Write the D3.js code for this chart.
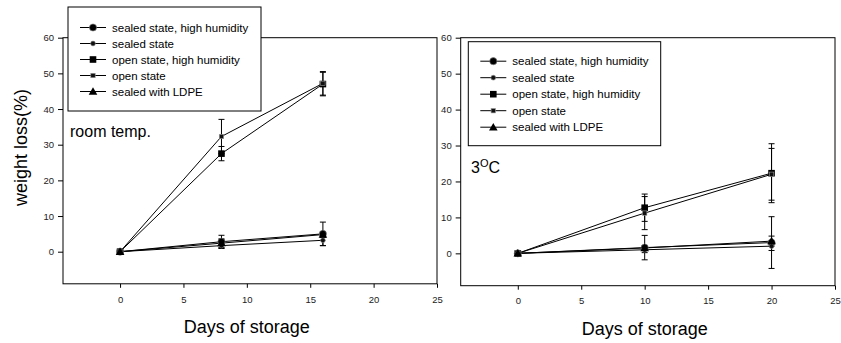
<!DOCTYPE html>
<html>
<head>
<meta charset="utf-8">
<script src="https://cdn.jsdelivr.net/npm/d3@7"></script>
<style>
  html, body { margin: 0; padding: 0; background: #fff; }
  svg { display: block; font-family: "Liberation Sans", Arial, sans-serif; }
</style>
</head>
<body>
<svg id="chart" width="841" height="343"></svg>
<script>
// Weight loss during storage, two storage temperatures
const seriesNames = [
  "sealed state, high humidity",
  "sealed state",
  "open state, high humidity",
  "open state",
  "sealed with LDPE"
];
const seriesSymbols = ["bigCircle", "smallCircle", "bigSquare", "smallSquare", "triangle"];

const xTicks = [0, 5, 10, 15, 20, 25];
const yTicks = [0, 10, 20, 30, 40, 50, 60];

// room temperature storage
const roomDays = [0, 8, 16];
const roomSealedHH = [0, 2.8, 5.0];
const roomSealedHHErr = [0.3, 1.8, 3.3];
const roomSealed = [0, 1.7, 3.2];
const roomSealedErr = [0.2, 0.8, 1.5];
const roomOpenHH = [0, 27.5, 47.0];
const roomOpenHHErr = [0.3, 2.0, 3.3];
const roomOpen = [0, 32.3, 47.2];
const roomOpenErr = [0.3, 4.8, 3.3];
const roomLDPE = [0, 2.4, 4.8];
const roomLDPEErr = [0.2, 1.2, 0.8];

// 3 °C storage
const coldDays = [0, 10, 20];
const coldSealedHH = [0, 1.6, 3.0];
const coldSealedHHErr = [0.2, 3.4, 7.2];
const coldSealed = [0, 1.0, 2.0];
const coldSealedErr = [0.2, 0.8, 1.2];
const coldOpenHH = [0, 12.7, 22.3];
const coldOpenHHErr = [0.3, 3.8, 8.2];
const coldOpen = [0, 11.2, 22.0];
const coldOpenErr = [0.3, 4.6, 7.2];
const coldLDPE = [0, 1.5, 3.4];
const coldLDPEErr = [0.2, 0.6, 1.4];

const svg = d3.select("#chart");

function buildSeries(days, vals, errs) {
  return vals.map((v, i) => ({
    name: seriesNames[i],
    symbol: seriesSymbols[i],
    points: days.map((d, j) => ({ x: d, y: v[j], e: errs[i][j] }))
  }));
}

function drawSymbol(g, type, cx, cy) {
  if (type === "bigCircle") {
    g.append("circle").attr("cx", cx).attr("cy", cy).attr("r", 3.6)
      .attr("fill", "#000").attr("stroke", "#888").attr("stroke-width", 0.6);
  } else if (type === "smallCircle") {
    g.append("circle").attr("cx", cx).attr("cy", cy).attr("r", 2.4)
      .attr("fill", "#111").attr("stroke", "#888").attr("stroke-width", 0.6);
  } else if (type === "bigSquare") {
    g.append("rect").attr("x", cx - 3.3).attr("y", cy - 3.3).attr("width", 6.6).attr("height", 6.6).attr("fill", "#000");
  } else if (type === "smallSquare") {
    g.append("rect").attr("x", cx - 2.2).attr("y", cy - 2.2).attr("width", 4.4).attr("height", 4.4)
      .attr("fill", "#111").attr("stroke", "#999").attr("stroke-width", 0.6);
  } else if (type === "triangle") {
    const s = 4.3;
    g.append("path")
      .attr("d", `M${cx},${cy - s}L${cx + s},${cy + s * 0.75}L${cx - s},${cy + s * 0.75}Z`)
      .attr("fill", "#000");
  }
}

// squares first, then circles, triangle on top
const markerOrder = [2, 3, 0, 1, 4];

function panel(opt) {
  const x = d3.scaleLinear().domain([-4.5, 25]).range([opt.left, opt.right]);
  const y = d3.scaleLinear().domain([-9, 60]).range([opt.bottom, opt.top]);
  const g = svg.append("g");

  // frame
  g.append("rect")
    .attr("x", opt.left).attr("y", opt.top)
    .attr("width", opt.right - opt.left).attr("height", opt.bottom - opt.top)
    .attr("fill", "none").attr("stroke", "#000").attr("stroke-width", 1);

  const yAxis = g.append("g")
    .attr("transform", `translate(${opt.left},0)`)
    .call(d3.axisLeft(y).tickValues(yTicks).tickSize(5).tickPadding(4).tickFormat(d3.format("d")));
  const xAxis = g.append("g")
    .attr("transform", `translate(0,${opt.bottom})`)
    .call(d3.axisBottom(x).tickValues(xTicks).tickSize(4).tickPadding(8).tickFormat(d3.format("d")));
  [yAxis, xAxis].forEach(a => {
    a.select(".domain").remove();
    a.selectAll("text").attr("font-size", 9.5).attr("fill", "#222")
      .attr("font-family", "Liberation Sans, Arial, sans-serif");
    a.selectAll("line").attr("stroke", "#000");
  });

  // error bars
  const eg = g.append("g");
  opt.series.forEach(s => {
    s.points.forEach(p => {
      if (p.x === 0) return;
      const px = x(p.x);
      const y1 = y(p.y + p.e), y2 = y(p.y - p.e);
      eg.append("line").attr("x1", px).attr("x2", px).attr("y1", y1).attr("y2", y2)
        .attr("stroke", "#000").attr("stroke-width", 1);
      [y1, y2].forEach(yy => eg.append("line")
        .attr("x1", px - 3).attr("x2", px + 3).attr("y1", yy).attr("y2", yy)
        .attr("stroke", "#000").attr("stroke-width", 1));
    });
  });

  // lines
  const line = d3.line().x(p => x(p.x)).y(p => y(p.y));
  opt.series.forEach(s => {
    g.append("path").attr("d", line(s.points))
      .attr("fill", "none").attr("stroke", "#000").attr("stroke-width", 1);
  });

  // markers
  markerOrder.forEach(i => {
    const s = opt.series[i];
    s.points.forEach(p => drawSymbol(g, s.symbol, x(p.x), y(p.y)));
  });

  // legend
  const lg = g.append("g");
  lg.append("rect")
    .attr("x", opt.legend.x).attr("y", opt.legend.y)
    .attr("width", opt.legend.w).attr("height", opt.legend.h)
    .attr("fill", "#fff").attr("stroke", "#000").attr("stroke-width", 1);
  opt.series.forEach((s, i) => {
    const ly = opt.legend.y + opt.legend.first + i * opt.legend.step;
    const lx = opt.legend.x + 12;
    lg.append("line").attr("x1", lx).attr("x2", lx + 26).attr("y1", ly).attr("y2", ly)
      .attr("stroke", "#000").attr("stroke-width", 1);
    drawSymbol(lg, s.symbol, lx + 13, ly);
    lg.append("text").attr("x", lx + 32).attr("y", ly + 4)
      .attr("font-size", 11.5).attr("fill", "#000").text(s.name);
  });

  // x axis title
  g.append("text")
    .attr("x", x(10)).attr("y", opt.bottom + 49)
    .attr("text-anchor", "middle").attr("font-size", 18).attr("fill", "#000")
    .text("Days of storage");

  return { g, x, y };
}

const roomVals = [roomSealedHH, roomSealed, roomOpenHH, roomOpen, roomLDPE];
const roomErrs = [roomSealedHHErr, roomSealedErr, roomOpenHHErr, roomOpenErr, roomLDPEErr];
const coldVals = [coldSealedHH, coldSealed, coldOpenHH, coldOpen, coldLDPE];
const coldErrs = [coldSealedHHErr, coldSealedErr, coldOpenHHErr, coldOpenErr, coldLDPEErr];

const left = panel({
  left: 63, right: 437, top: 37.7, bottom: 283.8,
  series: buildSeries(roomDays, roomVals, roomErrs),
  legend: { x: 68, y: 7, w: 193, h: 104, first: 20.5, step: 16 }
});
left.g.append("text")
  .attr("x", 70).attr("y", 136.5).attr("font-size", 16).attr("fill", "#000")
  .text("room temp.");

const right = panel({
  left: 460.7, right: 835, top: 37.7, bottom: 285.7,
  series: buildSeries(coldDays, coldVals, coldErrs),
  legend: { x: 468.3, y: 41.7, w: 192.4, h: 104, first: 19.5, step: 16.5 }
});
const tLabel = right.g.append("text")
  .attr("x", 471).attr("y", 173).attr("font-size", 16).attr("fill", "#000");
tLabel.append("tspan").text("3");
tLabel.append("tspan").attr("font-size", 11).attr("dy", -6).text("O");
tLabel.append("tspan").attr("dy", 6).text("C");

// shared y axis title
svg.append("text")
  .attr("transform", "translate(27,147.5) rotate(-90)")
  .attr("text-anchor", "middle").attr("font-size", 18).attr("fill", "#000")
  .text("weight loss(%)");
</script>
</body>
</html>
